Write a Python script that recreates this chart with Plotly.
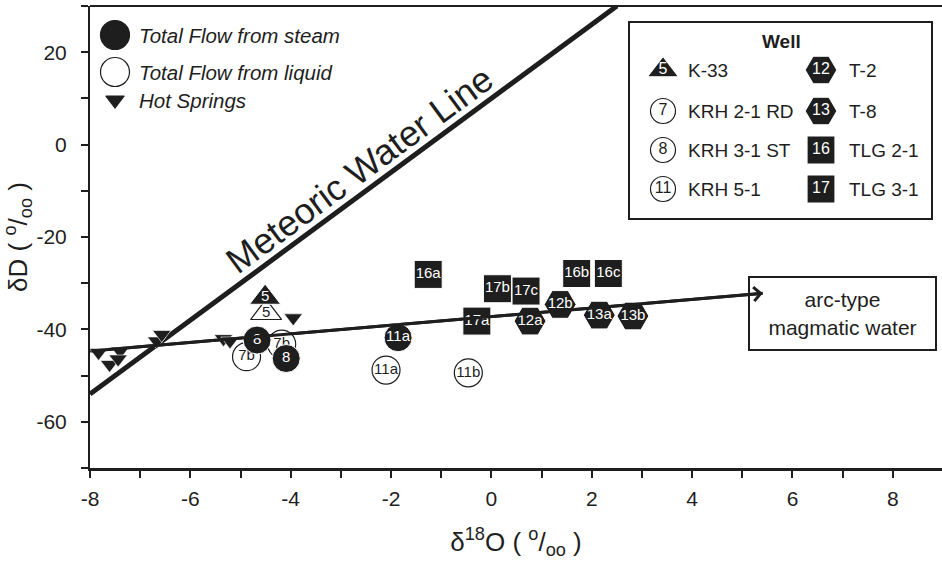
import plotly.graph_objects as go

# ---- data: δ18O (‰) and δD (‰) -------------------------------------------
# total flow recomputed from the steam phase (filled symbols)
steam_labels = ["16a", "16b", "16c", "17a", "17b", "17c", "12a", "12b",
                "13a", "13b", "11a", "8", "8", "5"]
steam_d18o = [-1.26, 1.70, 2.33, -0.29, 0.12, 0.69, 0.77, 1.37,
              2.15, 2.82, -1.86, -4.67, -4.09, -4.51]
steam_dd = [-28.1, -27.9, -27.9, -38.2, -31.2, -31.7, -38.2, -34.6,
            -36.9, -37.1, -41.8, -42.3, -46.3, -33.1]

# total flow recomputed from the liquid phase (open symbols)
liquid_labels = ["7b", "7b", "11a", "11b", "5"]
liquid_d18o = [-4.88, -4.18, -2.10, -0.46, -4.49]
liquid_dd = [-45.9, -43.2, -48.8, -49.4, -36.4]

# hot springs
spring_d18o = [-7.83, -7.61, -7.40, -7.44, -6.67, -6.57, -5.34, -5.21, -3.95]
spring_dd = [-45.0, -47.6, -44.7, -46.4, -42.5, -41.1, -42.0, -42.5, -37.5]

# reference lines
mwl_d18o = [-8.0, 2.5]
mwl_dd = [-54.0, 30.0]
trend_d18o = [-8.0, 5.41]
trend_dd = [-44.7, -32.2]

# wells
well_ids = ["5", "7", "8", "11", "12", "13", "16", "17"]
well_names = ["K-33", "KRH 2-1 RD", "KRH 3-1 ST", "KRH 5-1",
              "T-2", "T-8", "TLG 2-1", "TLG 3-1"]
well_filled = [True, False, False, False, True, True, True, True]

x_ticks = [-8, -6, -4, -2, 0, 2, 4, 6, 8]
x_tick_text = ["-8", "-6", "-4", "-2", "0", "2", "4", "6", "8"]
y_ticks = [-60, -40, -20, 0, 20]
y_tick_text = ["-60", "-40", "-20", "0", "20"]

# ---- styling ---------------------------------------------------------------
INK = "#1e1e1e"
SANS = "Liberation Sans, Arial, sans-serif"

symbol_of = {"5": "triangle-up", "7": "circle", "8": "circle", "11": "circle",
             "12": "hexagon2", "13": "hexagon2", "16": "square", "17": "square"}
size_of = {"triangle-up": 27, "circle": 28, "hexagon2": 32, "square": 28}


def well_of(label):
    return label.rstrip("abc")


def symbols(labels):
    return [symbol_of[well_of(l)] for l in labels]


def sizes(labels):
    return [size_of[symbol_of[well_of(l)]] for l in labels]


fig = go.Figure()

# meteoric water line
fig.add_trace(go.Scatter(x=mwl_d18o, y=mwl_dd, mode="lines",
                         line=dict(color=INK, width=5), hoverinfo="skip"))
# magmatic mixing trend
fig.add_trace(go.Scatter(x=trend_d18o, y=trend_dd, mode="lines",
                         line=dict(color=INK, width=3), hoverinfo="skip"))

# hot springs
fig.add_trace(go.Scatter(
    x=spring_d18o, y=spring_dd, mode="markers",
    marker=dict(symbol="triangle-down", size=16, color=INK, opacity=1,
                line=dict(color="white", width=0.6)),
    name="Hot Springs"))

# liquid-derived total flow (open)
fig.add_trace(go.Scatter(
    x=liquid_d18o, y=liquid_dd, mode="markers+text", text=liquid_labels,
    textposition="middle center",
    textfont=dict(family=SANS, size=15, color=INK),
    marker=dict(symbol=symbols(liquid_labels), size=sizes(liquid_labels),
                color="white", opacity=1, line=dict(color=INK, width=1.2)),
    name="Total Flow from liquid", cliponaxis=False))

# steam-derived total flow (filled)
fig.add_trace(go.Scatter(
    x=steam_d18o, y=steam_dd, mode="markers+text", text=steam_labels,
    textposition="middle center",
    textfont=dict(family=SANS, size=15, color="white"),
    marker=dict(symbol=symbols(steam_labels), size=sizes(steam_labels),
                color=INK, opacity=1, line=dict(color="white", width=1)),
    name="Total Flow from steam", cliponaxis=False))

# ---- keys, drawn on an overlay axis measured in pixels ---------------------
PX_L, PX_R, PX_T, PX_B = 90, 942, 6, 468

# phase key (top left)
phase_keys = ["Total Flow from steam", "Total Flow from liquid", "Hot Springs"]
phase_y = [35, 72, 100]
fig.add_trace(go.Scatter(
    x=[115, 115, 115], y=phase_y, mode="markers", xaxis="x2", yaxis="y2",
    marker=dict(symbol=["circle", "circle", "triangle-down"],
                size=[29, 29, 16], color=[INK, "white", INK], opacity=1,
                line=dict(color=INK, width=1.2)),
    cliponaxis=False, hoverinfo="skip"))
annotations = []
for txt, yy in zip(phase_keys, phase_y):
    annotations.append(dict(x=137, y=yy, xref="x2", yref="y2", text=txt,
                            showarrow=False, xanchor="left", yanchor="middle",
                            font=dict(family=SANS, size=20.5, color=INK,
                                      style="italic")))

# well key (top right)
col_x = [663, 821]
text_x = [686, 847]
row_y = [70, 111, 150, 189]
key_x, key_y = [], []
for i, wid in enumerate(well_ids):
    c, r = divmod(i, 4)
    key_x.append(col_x[c])
    key_y.append(row_y[r])
    annotations.append(dict(x=text_x[c], y=row_y[r], xref="x2", yref="y2",
                            text=well_names[i], showarrow=False,
                            xanchor="left", yanchor="middle",
                            font=dict(family=SANS, size=19, color=INK)))
fig.add_trace(go.Scatter(
    x=key_x, y=key_y, mode="markers+text", xaxis="x2", yaxis="y2",
    text=well_ids, textposition="middle center",
    textfont=dict(family=SANS, size=16,
                  color=["white" if f else INK for f in well_filled]),
    marker=dict(symbol=[symbol_of[w] for w in well_ids],
                size=[25 if symbol_of[w] == "circle" else size_of[symbol_of[w]]
                      for w in well_ids],
                color=[INK if f else "white" for f in well_filled], opacity=1,
                line=dict(color=[("white" if f else INK) for f in well_filled],
                          width=1.2)),
    cliponaxis=False, hoverinfo="skip"))
annotations.append(dict(x=781, y=41, xref="x2", yref="y2", text="<b>Well</b>",
                        showarrow=False, font=dict(family=SANS, size=19,
                                                   color=INK)))

shapes = [
    # well key frame
    dict(type="rect", xref="x2", yref="y2", x0=629, x1=932, y0=22, y1=219,
         line=dict(color=INK, width=2), fillcolor="rgba(0,0,0,0)"),
    # top frame edge
    dict(type="line", xref="paper", yref="paper", x0=0, x1=1, y0=1, y1=1,
         line=dict(color=INK, width=2)),
]

# end-member box
annotations.append(dict(x=7.0, y=-36.6, xref="x", yref="y",
                        text="arc-type<br>magmatic water", showarrow=False,
                        font=dict(family=SANS, size=21, color=INK),
                        bordercolor=INK, borderwidth=2, borderpad=1,
                        width=183, height=69))
# arrow head at the end of the trend
annotations.append(dict(x=trend_d18o[1], y=trend_dd[1], xref="x", yref="y",
                        ax=trend_d18o[0], ay=trend_dd[0], axref="x", ayref="y",
                        text="", showarrow=True, arrowhead=4, arrowsize=0.9,
                        arrowwidth=3, arrowcolor=INK))
# meteoric water line label
annotations.append(dict(x=-2.62, y=-5.4, xref="x", yref="y",
                        text="Meteoric Water Line", showarrow=False,
                        textangle=-36.4,
                        font=dict(family=SANS, size=36, color=INK)))

fig.update_layout(
    width=942, height=562,
    margin=dict(l=PX_L, r=942 - PX_R, t=PX_T, b=562 - PX_B),
    paper_bgcolor="white", plot_bgcolor="white",
    showlegend=False,
    font=dict(family=SANS, color=INK),
    xaxis=dict(range=[-8, 8.98], showline=True, linewidth=3, linecolor=INK,
               ticks="outside", ticklen=7, tickwidth=2, tickcolor=INK,
               tickvals=x_ticks, ticktext=x_tick_text,
               minor=dict(dtick=1, tick0=0, ticks="outside", ticklen=7,
                          tickwidth=2, tickcolor=INK),
               showgrid=False, zeroline=False,
               tickfont=dict(family=SANS, size=21, color=INK),
               ticklabelstandoff=3,
               title=dict(text="δ<sup>18</sup>O ( <sup>o</sup>/<sub>oo</sub> )",
                          font=dict(family=SANS, size=26, color=INK),
                          standoff=24)),
    yaxis=dict(range=[-70, 30], showline=True, linewidth=2, linecolor=INK,
               ticks="outside", ticklen=7, tickwidth=2, tickcolor=INK,
               tickvals=y_ticks, ticktext=y_tick_text,
               minor=dict(dtick=10, tick0=0, ticks="outside", ticklen=7,
                          tickwidth=2, tickcolor=INK),
               showgrid=False, zeroline=False,
               tickfont=dict(family=SANS, size=21, color=INK),
               ticklabelstandoff=10,
               title=dict(text="δD ( <sup>o</sup>/<sub>oo</sub> )",
                          font=dict(family=SANS, size=26, color=INK),
                          standoff=8)),
    xaxis2=dict(range=[PX_L, PX_R], overlaying="x", anchor="y2",
                visible=False, fixedrange=True),
    yaxis2=dict(range=[PX_B, PX_T], overlaying="y", anchor="x2",
                visible=False, fixedrange=True),
    shapes=shapes,
    annotations=annotations,
)

fig.write_html("out.html")
